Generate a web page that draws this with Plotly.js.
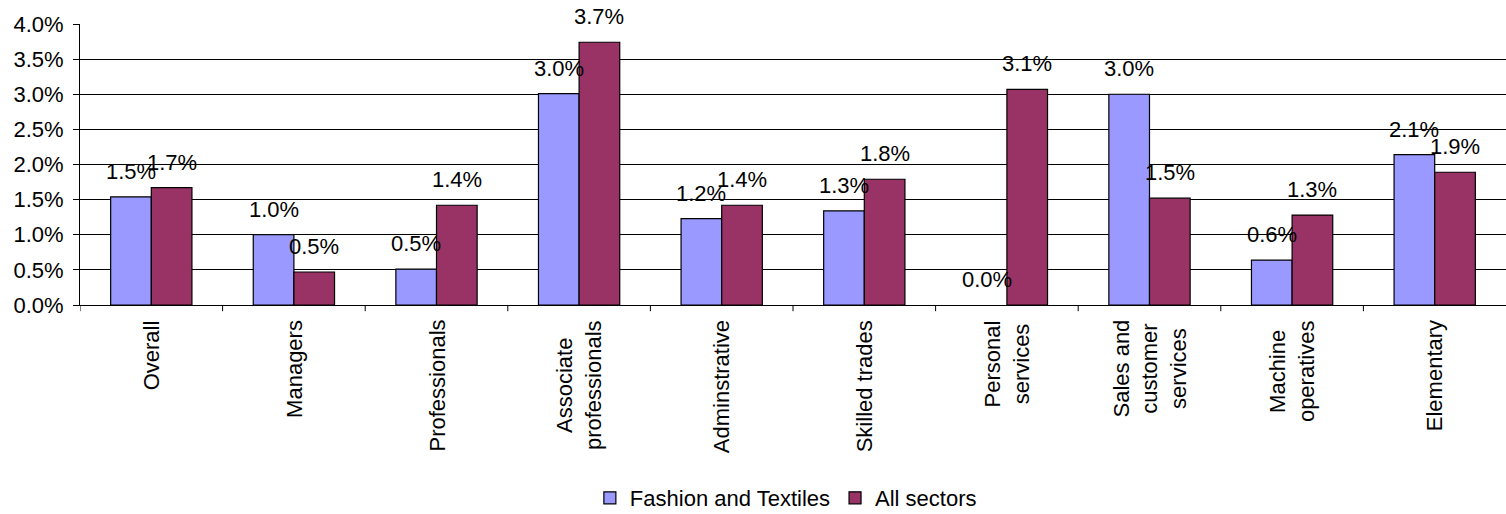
<!DOCTYPE html>
<html>
<head>
<meta charset="utf-8">
<script src="https://cdn.plot.ly/plotly-3.0.1.min.js"></script>
<style>
  html, body { margin: 0; padding: 0; background: #ffffff; }
  #chart { width: 1506px; height: 514px; }
</style>
</head>
<body>
<div id="chart"></div>
<script>
const categories = [
  "Overall", "Managers", "Professionals", "Associate<br>professionals",
  "Adminstrative", "Skilled trades", "Personal<br>services",
  "Sales and<br>customer<br>services", "Machine<br>operatives", "Elementary"
];
const fashionTextiles = [1.54, 1.00, 0.51, 3.01, 1.23, 1.34, 0.0, 3.00, 0.64, 2.14];
const allSectors      = [1.67, 0.47, 1.42, 3.74, 1.42, 1.79, 3.07, 1.52, 1.28, 1.89];
const seriesNames = ["Fashion and Textiles", "All sectors"];
const yTickVals = [0, 0.5, 1, 1.5, 2, 2.5, 3, 3.5, 4];

const FONT = "Arial, 'Liberation Sans', sans-serif";
const FS = 22;
const BAR_GAP = 0.43;
const half = (1 - BAR_GAP) / 4;

function bar(name, vals, color) {
  return {
    type: "bar",
    name: name,
    x: categories.map((c, i) => i),
    y: vals,
    marker: {
      color: color,
      line: { color: "#000000", width: vals.map(v => (v === 0 ? 0 : 1.2)) }
    },
    hoverinfo: "none"
  };
}

const traces = [
  bar(seriesNames[0], fashionTextiles, "#9999FF"),
  bar(seriesNames[1], allSectors, "#993366")
];

const annotations = [];
[fashionTextiles, allSectors].forEach((vals, s) => {
  vals.forEach((v, i) => {
    annotations.push({
      x: i + (s === 0 ? -half : half),
      y: v,
      xref: "x", yref: "y",
      text: v.toFixed(1) + "%",
      showarrow: false,
      xanchor: "center",
      yanchor: "bottom",
      yshift: 11,
      font: { family: FONT, size: FS, color: "#000000" }
    });
  });
});

// category labels, rotated and centred line by line
categories.forEach((c, i) => {
  annotations.push({
    x: i, y: 0,
    xref: "x", yref: "paper",
    text: c,
    showarrow: false,
    textangle: -90,
    align: "center",
    xanchor: "center",
    yanchor: "top",
    yshift: -13,
    font: { family: FONT, size: FS, color: "#000000" }
  });
});

const layout = {
  width: 1506,
  height: 514,
  margin: { l: 80, r: 0, t: 24, b: 209, autoexpand: false },
  paper_bgcolor: "#ffffff",
  plot_bgcolor: "#ffffff",
  barmode: "group",
  bargap: BAR_GAP,
  bargroupgap: 0,
  font: { family: FONT, size: FS, color: "#000000" },
  showlegend: true,
  legend: {
    orientation: "h",
    x: 0.495, xanchor: "center",
    y: -0.687, yanchor: "middle",
    font: { family: FONT, size: FS, color: "#000000" },
    itemwidth: 30,
    traceorder: "normal"
  },
  xaxis: {
    type: "linear",
    range: [-0.5, categories.length - 0.5],
    showticklabels: false,
    ticks: "",
    showgrid: false,
    zeroline: false,
    showline: true,
    linecolor: "#000000",
    linewidth: 1,
    automargin: false,
    fixedrange: true
  },
  yaxis: {
    range: [0, 4],
    tickmode: "array",
    tickvals: yTickVals,
    ticktext: yTickVals.map(v => v.toFixed(1) + "%"),
    ticks: "outside",
    ticklen: 6,
    tickcolor: "#000000",
    ticklabelstandoff: 5,
    showgrid: true,
    gridcolor: "#000000",
    gridwidth: 1,
    zeroline: false,
    showline: true,
    linecolor: "#000000",
    linewidth: 1,
    automargin: false,
    tickfont: { family: FONT, size: FS, color: "#000000" },
    fixedrange: true
  },
  shapes: categories.map((c, i) => ({
    type: "line",
    xref: "x", yref: "paper",
    x0: i - 0.5, x1: i - 0.5,
    y0: 0, y1: -0.022,
    line: { color: "#000000", width: 1 }
  })),
  annotations: annotations
};

Plotly.newPlot("chart", traces, layout, { displayModeBar: false, staticPlot: true });
</script>
</body>
</html>
